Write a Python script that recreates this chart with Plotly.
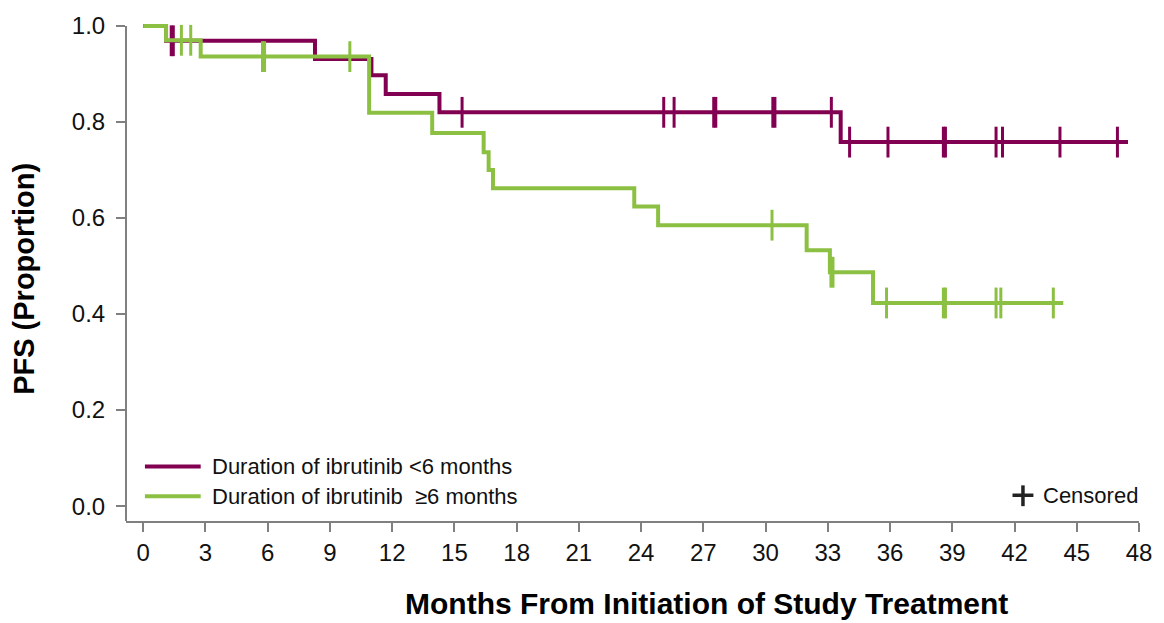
import plotly.graph_objects as go

# ---------------- data ----------------
# Duration of ibrutinib <6 months
lt6_time = [0, 1.1, 8.28, 11.0, 11.69, 14.28, 33.62, 47.47]
lt6_surv = [1.0, 0.969, 0.931, 0.897, 0.858, 0.820, 0.758, 0.758]
lt6_censor = [1.35, 1.45, 15.37, 25.09, 25.59, 27.5, 27.6, 30.35, 30.45,
              33.17, 34.05, 35.9, 38.57, 38.67, 41.11, 41.42, 44.19, 46.96]

# Duration of ibrutinib >=6 months
ge6_time = [0, 1.1, 2.77, 10.89, 13.93, 16.41, 16.65, 16.86, 23.67, 24.82,
            31.98, 33.1, 35.18, 44.35]
ge6_surv = [1.0, 0.970, 0.936, 0.819, 0.777, 0.737, 0.700, 0.662, 0.624,
            0.585, 0.533, 0.487, 0.423, 0.423]
ge6_censor = [1.84, 2.29, 5.75, 5.85, 9.96, 30.31, 33.15, 33.25, 35.83,
              38.57, 38.67, 41.11, 41.34, 43.87]

x_ticks = list(range(0, 49, 3))
y_ticks = [0.0, 0.2, 0.4, 0.6, 0.8, 1.0]
y_tick_text = ["0.0", "0.2", "0.4", "0.6", "0.8", "1.0"]

series_names = ["Duration of ibrutinib <6 months", "Duration of ibrutinib  \u22656 months"]

# ---------------- styling ----------------
PURPLE = "#820052"
GREEN = "#8cc043"
AXIS = "#808080"
FONT = "Liberation Sans, Arial, sans-serif"

W, H = 1164, 623
PL, PR, PT, PB = 126, 1143, 18, 521


def step_at(times, surv, t):
    val = surv[0]
    for tt, s in zip(times, surv):
        if tt <= t:
            val = s
    return val


def px_x(px):
    return (px - PL) / (PR - PL)


def px_y(py):
    return (PB - py) / (PB - PT)


fig = go.Figure()

for times, surv, cens, color, name in [
    (lt6_time, lt6_surv, lt6_censor, PURPLE, series_names[0]),
    (ge6_time, ge6_surv, ge6_censor, GREEN, series_names[1]),
]:
    fig.add_trace(go.Scatter(
        x=times, y=surv, mode="lines", line=dict(color=color, width=4, shape="hv"),
        name=name, showlegend=False, hoverinfo="skip"))
    fig.add_trace(go.Scatter(
        x=cens, y=[step_at(times, surv, c) for c in cens], mode="markers",
        marker=dict(symbol="line-ns", size=22, line=dict(color=color, width=3)),
        showlegend=False, hoverinfo="skip", cliponaxis=False))

shapes = []
# y-axis line
shapes.append(dict(type="line", xref="paper", yref="y", x0=0, x1=0, y0=-0.031, y1=1.0,
                   line=dict(color=AXIS, width=2)))
# legend lines
shapes.append(dict(type="line", xref="paper", yref="paper", x0=px_x(145), x1=px_x(201),
                   y0=px_y(466), y1=px_y(466), line=dict(color=PURPLE, width=4)))
shapes.append(dict(type="line", xref="paper", yref="paper", x0=px_x(145), x1=px_x(201),
                   y0=px_y(496), y1=px_y(496), line=dict(color=GREEN, width=4)))
# censored plus sign
shapes.append(dict(type="line", xref="paper", yref="paper", x0=px_x(1016), x1=px_x(1037),
                   y0=px_y(495), y1=px_y(495), line=dict(color="#222222", width=3.5)))
shapes.append(dict(type="line", xref="paper", yref="paper", x0=px_x(1026.5), x1=px_x(1026.5),
                   y0=px_y(485), y1=px_y(506), line=dict(color="#222222", width=3.5)))

annotations = [
    dict(text=series_names[0], xref="paper", yref="paper", x=px_x(210), y=px_y(466),
         xanchor="left", yanchor="middle", showarrow=False, font=dict(size=22, color="#111111")),
    dict(text=series_names[1], xref="paper", yref="paper", x=px_x(210), y=px_y(496),
         xanchor="left", yanchor="middle", showarrow=False, font=dict(size=22, color="#111111")),
    dict(text="Censored", xref="paper", yref="paper", x=px_x(1045), y=px_y(495),
         xanchor="left", yanchor="middle", showarrow=False, font=dict(size=22, color="#111111")),
    dict(text="<b>Months From Initiation of Study Treatment</b>", xref="paper", yref="paper",
         x=px_x(709), y=px_y(604), xanchor="center", yanchor="middle", showarrow=False,
         font=dict(size=30, color="#000000")),
    dict(text="<b>PFS (Proportion)</b>", xref="paper", yref="paper", x=px_x(24), y=px_y(276),
         xanchor="center", yanchor="middle", showarrow=False, textangle=-90,
         font=dict(size=29, color="#000000")),
]

fig.update_layout(
    width=W, height=H,
    margin=dict(l=PL, r=W - PR, t=PT, b=H - PB),
    paper_bgcolor="white", plot_bgcolor="white",
    font=dict(family=FONT, color="#111111"),
    showlegend=False,
    shapes=shapes, annotations=annotations,
    xaxis=dict(range=[-0.83, 48], tickvals=x_ticks, ticktext=[str(v) for v in x_ticks],
               showgrid=False, zeroline=False, showline=True, linecolor=AXIS, linewidth=2,
               ticks="outside", ticklen=9, tickwidth=2, tickcolor=AXIS,
               tickfont=dict(size=24, color="#111111", family=FONT)),
    yaxis=dict(range=[-0.031, 1.006], tickvals=y_ticks, ticktext=y_tick_text,
               showgrid=False, zeroline=False, showline=False,
               ticks="outside", ticklen=9, tickwidth=2, tickcolor=AXIS,
               ticklabelstandoff=6,
               tickfont=dict(size=24, color="#111111", family=FONT)),
)

fig.write_html(
    "out.html",
    config={"displayModeBar": False},
    post_script="document.body.style.margin='0';document.body.style.padding='0';"
                "document.body.style.overflow='hidden';",
)
